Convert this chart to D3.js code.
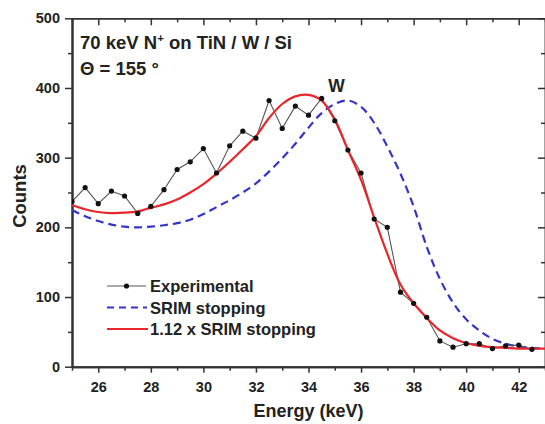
<!DOCTYPE html>
<html>
<head>
<meta charset="utf-8">
<script src="https://cdn.jsdelivr.net/npm/d3@7"></script>
<style>
  body { margin: 0; background: #fff; }
  svg { font-family: 'Liberation Sans', Arial, sans-serif; font-weight: bold; }
</style>
</head>
<body>
<div id="chart"></div>
<script>
const width = 545
const height = 424

// experimental spectrum, one reading every 0.5 keV
const expEnergy = [25, 25.5, 26, 26.5, 27, 27.5, 28, 28.5, 29, 29.5, 30, 30.5, 31, 31.5, 32, 32.5, 33, 33.5,
  34, 34.5, 35, 35.5, 36, 36.5, 37, 37.5, 38, 38.5, 39, 39.5, 40, 40.5, 41, 41.5, 42, 42.5]
const expCounts = [237, 257, 234, 252, 245, 220, 230, 254, 283, 294, 313, 278, 317, 338, 328, 382, 342, 374,
  361, 385, 353, 311, 278, 212, 200, 107, 91, 71, 37, 28, 33, 33, 26, 30, 31, 25]

// simulated curves
const simEnergy = [25, 25.5, 26, 26.5, 27, 27.5, 28, 28.5, 29, 29.5, 30, 30.5, 31, 31.5, 32, 32.5, 33, 33.5,
  34, 34.5, 35, 35.5, 36, 36.5, 37, 37.5, 38, 38.5, 39, 39.5, 40, 40.5, 41, 41.5, 42, 42.5, 43]
const srim = [225, 216, 209, 204, 201, 200, 201, 203, 206, 211, 219, 229, 239, 250, 263, 280, 299, 320,
  343, 364, 377, 382, 373, 350, 316, 277, 230, 172, 126, 92, 68, 52, 40, 33, 29, 27, 26]
const srim112 = [232, 226, 222, 220.5, 221, 223, 228, 233, 240, 250, 262, 277, 294, 312, 331, 357, 377, 388,
  390, 382, 355, 311, 268, 214, 162, 118, 91, 70, 52, 41, 34, 30, 28, 27, 26, 26, 26]

const xMajor = [26, 28, 30, 32, 34, 36, 38, 40, 42]
const xMinor = [25, 27, 29, 31, 33, 35, 37, 39, 41, 43]
const yMajor = [0, 100, 200, 300, 400, 500]
const yMinor = [50, 150, 250, 350, 450]

const legendLabels = ['Experimental', 'SRIM stopping', '1.12 x SRIM stopping']

const mLeft = 72, mRight = 545, mTop = 18.3, mBottom = 366.7

const x = d3.scaleLinear().domain([25, 43]).range([mLeft, mRight])
const y = d3.scaleLinear().domain([0, 500]).range([mBottom, mTop])

const svg = d3.select('#chart')
    .append('svg')
    .attr('width', width)
    .attr('height', height)

svg.append('defs').append('clipPath')
    .attr('id', 'plot-clip')
    .append('rect')
    .attr('x', mLeft).attr('y', mTop)
    .attr('width', mRight - mLeft).attr('height', mBottom - mTop)

const axisColor = '#333'

function styleAxis (g, w) {
    g.select('.domain').attr('stroke', axisColor).attr('stroke-width', w)
    g.selectAll('.tick line').attr('stroke', axisColor).attr('stroke-width', 1.5)
}

function styleLabels (g) {
    g.selectAll('text')
        .attr('font-size', 14.5)
        .attr('font-weight', 'bold')
        .attr('fill', '#222')
        .attr('font-family', 'Liberation Sans, Arial, sans-serif')
}

// bottom axis
svg.append('g')
    .attr('transform', `translate(0,${mBottom})`)
    .call(d3.axisBottom(x).tickValues(xMajor).tickSize(6).tickSizeOuter(0).tickPadding(9))
    .call(g => styleAxis(g, 2))
    .call(styleLabels)

svg.append('g')
    .attr('transform', `translate(0,${mBottom})`)
    .call(d3.axisBottom(x).tickValues(xMinor).tickSize(4).tickSizeOuter(0).tickFormat(''))
    .call(g => styleAxis(g, 2))

// top axis, ticks inward
svg.append('g')
    .attr('transform', `translate(0,${mTop})`)
    .call(d3.axisBottom(x).tickValues(xMajor).tickSize(7).tickSizeOuter(0).tickFormat(''))
    .call(g => styleAxis(g, 1.5))
svg.append('g')
    .attr('transform', `translate(0,${mTop})`)
    .call(d3.axisBottom(x).tickValues(xMinor).tickSize(4).tickSizeOuter(0).tickFormat(''))
    .call(g => styleAxis(g, 1.5))

// left axis
svg.append('g')
    .attr('transform', `translate(${mLeft},0)`)
    .call(d3.axisLeft(y).tickValues(yMajor).tickSize(7).tickSizeOuter(0).tickPadding(5))
    .call(g => styleAxis(g, 2))
    .call(styleLabels)
svg.append('g')
    .attr('transform', `translate(${mLeft},0)`)
    .call(d3.axisLeft(y).tickValues(yMinor).tickSize(4).tickSizeOuter(0).tickFormat(''))
    .call(g => styleAxis(g, 2))

// right axis, ticks inward
svg.append('g')
    .attr('transform', `translate(${mRight},0)`)
    .call(d3.axisRight(y).tickValues(yMajor).tickSize(-7).tickSizeOuter(0).tickFormat(''))
    .call(g => styleAxis(g, 1.5))
svg.append('g')
    .attr('transform', `translate(${mRight},0)`)
    .call(d3.axisRight(y).tickValues(yMinor).tickSize(-4).tickSizeOuter(0).tickFormat(''))
    .call(g => styleAxis(g, 1.5))

// axis titles
svg.append('text')
    .attr('x', x(34))
    .attr('y', 417)
    .attr('text-anchor', 'middle')
    .attr('font-size', 18)
    .attr('fill', '#222')
    .text('Energy (keV)')

svg.append('text')
    .attr('transform', `translate(26,${y(245)}) rotate(-90)`)
    .attr('text-anchor', 'middle')
    .attr('font-size', 18.5)
    .attr('fill', '#222')
    .text('Counts')

const plot = svg.append('g').attr('clip-path', 'url(#plot-clip)')

const smooth = d3.line()
    .x(d => x(d[0]))
    .y(d => y(d[1]))
    .curve(d3.curveCatmullRom.alpha(0.5))

const blue = '#3434c8'
const red = '#e8262b'

plot.append('path')
    .datum(simEnergy.map((e, i) => [e, srim[i]]))
    .attr('fill', 'none')
    .attr('stroke', blue)
    .attr('stroke-width', 2.2)
    .attr('stroke-dasharray', '8,5')
    .attr('d', smooth)

const expData = expEnergy.map((e, i) => [e, expCounts[i]])

plot.append('path')
    .datum(expData)
    .attr('fill', 'none')
    .attr('stroke', '#555')
    .attr('stroke-width', 1.1)
    .attr('d', d3.line().x(d => x(d[0])).y(d => y(d[1])))

plot.append('path')
    .datum(simEnergy.map((e, i) => [e, srim112[i]]))
    .attr('fill', 'none')
    .attr('stroke', red)
    .attr('stroke-width', 2.2)
    .attr('d', smooth)

plot.selectAll('circle.exp')
    .data(expData)
    .enter()
    .append('circle')
    .attr('class', 'exp')
    .attr('cx', d => x(d[0]))
    .attr('cy', d => y(d[1]))
    .attr('r', 2.6)
    .attr('fill', '#111')

// annotations
const title = svg.append('text')
    .attr('x', 80)
    .attr('y', 49)
    .attr('font-size', 18.5)
    .attr('fill', '#222')
title.append('tspan').text('70 keV N')
title.append('tspan').attr('font-size', 11.5).attr('dy', -7.5).text('+')
title.append('tspan').attr('dy', 7.5).text(' on TiN / W / Si')

svg.append('text')
    .attr('x', 80)
    .attr('y', 75)
    .attr('font-size', 18.5)
    .attr('fill', '#222')
    .text('\u0398 = 155 \u00b0')

svg.append('text')
    .attr('x', 336.5)
    .attr('y', 92)
    .attr('text-anchor', 'middle')
    .attr('font-size', 17.5)
    .attr('fill', '#222')
    .text('W')

// legend
const legend = svg.append('g')
const rowY = [286, 307.5, 329]

legend.append('line')
    .attr('x1', 107).attr('x2', 146).attr('y1', rowY[0]).attr('y2', rowY[0])
    .attr('stroke', '#555').attr('stroke-width', 1.1)
legend.append('circle')
    .attr('cx', 126.5).attr('cy', rowY[0]).attr('r', 2.6).attr('fill', '#111')

legend.append('line')
    .attr('x1', 107).attr('x2', 147).attr('y1', rowY[1]).attr('y2', rowY[1])
    .attr('stroke', blue).attr('stroke-width', 2.2).attr('stroke-dasharray', '7,5')

legend.append('line')
    .attr('x1', 107).attr('x2', 148).attr('y1', rowY[2]).attr('y2', rowY[2])
    .attr('stroke', red).attr('stroke-width', 2.2)

legend.selectAll('text')
    .data(legendLabels)
    .enter()
    .append('text')
    .attr('x', 150)
    .attr('y', (d, i) => rowY[i] + 6)
    .attr('font-size', 16.5)
    .attr('fill', '#222')
    .text(d => d)
</script>
</body>
</html>
